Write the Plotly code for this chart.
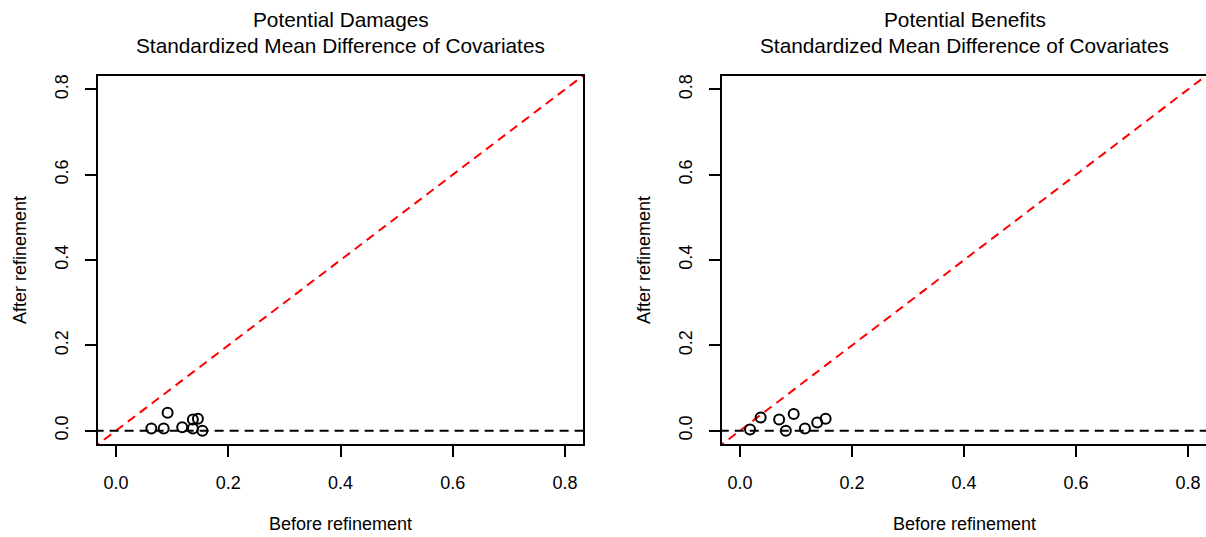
import plotly.graph_objects as go

# Standardized mean differences of covariates, before vs after refinement
damages_before = [0.063, 0.085, 0.092, 0.118, 0.137, 0.146, 0.137, 0.154]
damages_after = [0.005, 0.005, 0.042, 0.008, 0.026, 0.028, 0.005, 0.000]

benefits_before = [0.018, 0.037, 0.070, 0.096, 0.082, 0.116, 0.138, 0.153]
benefits_after = [0.003, 0.031, 0.026, 0.039, 0.000, 0.005, 0.019, 0.028]

panel_titles = ["Potential Damages", "Potential Benefits"]
subtitle = "Standardized Mean Difference of Covariates"
x_label = "Before refinement"
y_label = "After refinement"
tick_vals = [0.0, 0.2, 0.4, 0.6, 0.8]

axis_range = [-0.032, 0.832]
FONT = "Liberation Sans, Arial, Helvetica, sans-serif"
W, H = 1206, 537

fig = go.Figure()

panels = [
    (damages_before, damages_after, "x", "y"),
    (benefits_before, benefits_after, "x2", "y2"),
]

for xb, ya, xr, yr in panels:
    # reference line y = x (clipped to the plotting region)
    fig.add_trace(go.Scatter(
        x=[-1, 2], y=[-1, 2], mode="lines", xaxis=xr, yaxis=yr,
        line=dict(color="#ff0000", width=2, dash="9px,6px"),
        hoverinfo="skip", showlegend=False,
    ))
    # zero line
    fig.add_trace(go.Scatter(
        x=[-1, 2], y=[0, 0], mode="lines", xaxis=xr, yaxis=yr,
        line=dict(color="black", width=2, dash="9px,6px"),
        hoverinfo="skip", showlegend=False,
    ))
    fig.add_trace(go.Scatter(
        x=xb, y=ya, mode="markers", xaxis=xr, yaxis=yr,
        marker=dict(symbol="circle-open", size=10, color="black",
                    line=dict(width=2, color="black")),
        showlegend=False,
    ))

ydom = [1 - 444 / H, 1 - 74 / H]
xdoms = [[98 / W, 583 / W], [722 / W, 1.0]]

def axis_style(domain, anchor, mirror=True):
    return dict(
        domain=domain, anchor=anchor, range=axis_range,
        tickvals=tick_vals, tickformat=".1f",
        showgrid=False, zeroline=False,
        showline=True, linecolor="black", linewidth=2, mirror=mirror,
        ticks="outside", ticklen=11, tickwidth=2, tickcolor="black",
        tickfont=dict(family=FONT, size=18, color="black"),
        ticklabelstandoff=10,
    )

fig.update_layout(
    width=W, height=H,
    margin=dict(l=0, r=0, t=0, b=0),
    paper_bgcolor="white", plot_bgcolor="white",
    font=dict(family=FONT, color="black"),
    xaxis=axis_style(xdoms[0], "y"),
    yaxis=dict(**axis_style(ydom, "x"), tickangle=-90),
    xaxis2=axis_style(xdoms[1], "y2"),
    # right-hand frame edge of the second panel falls at the page edge
    yaxis2=dict(**axis_style(ydom, "x2", mirror=False), tickangle=-90),
)

annotations = []
for i, dom in enumerate(xdoms):
    cx = (98 + 583) / 2 / W if i == 0 else (722 + 1207) / 2 / W
    annotations.append(dict(
        text=panel_titles[i], xref="paper", yref="paper",
        x=cx, y=1 - 18 / H, xanchor="center", yanchor="middle",
        showarrow=False, font=dict(family=FONT, size=20.8, color="black"),
    ))
    annotations.append(dict(
        text=subtitle, xref="paper", yref="paper",
        x=cx, y=1 - 44 / H, xanchor="center", yanchor="middle",
        showarrow=False, font=dict(family=FONT, size=20.8, color="black"),
    ))
    annotations.append(dict(
        text=x_label, xref="paper", yref="paper",
        x=cx, y=1 - 524 / H, xanchor="center", yanchor="middle",
        showarrow=False, font=dict(family=FONT, size=18, color="black"),
    ))
    annotations.append(dict(
        text=y_label, xref="paper", yref="paper",
        x=(dom[0] * W - 78) / W, y=(ydom[0] + ydom[1]) / 2,
        xanchor="center", yanchor="middle", textangle=-90,
        showarrow=False, font=dict(family=FONT, size=18, color="black"),
    ))
fig.update_layout(annotations=annotations)

fig.write_html("out.html")
